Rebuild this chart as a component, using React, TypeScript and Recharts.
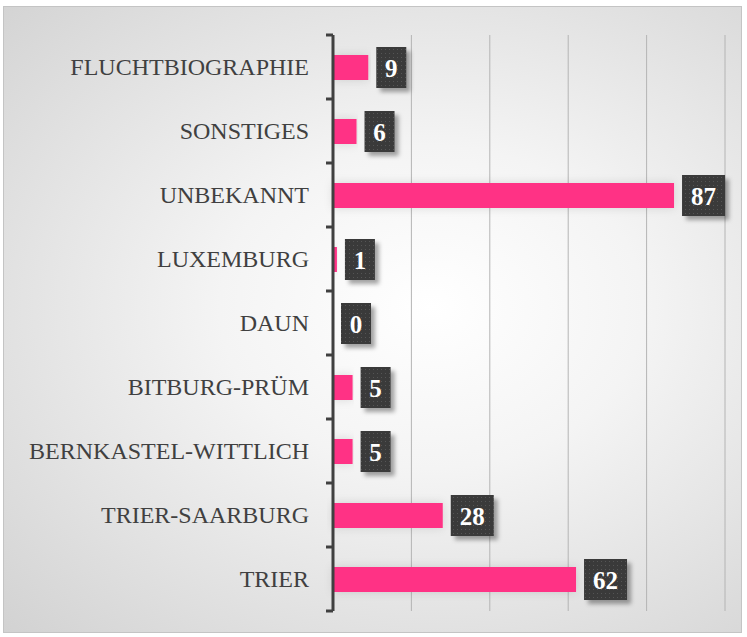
import { Bar, BarChart, CartesianGrid, LabelList, XAxis, YAxis } from 'recharts';

const categories = [
  'FLUCHTBIOGRAPHIE',
  'SONSTIGES',
  'UNBEKANNT',
  'LUXEMBURG',
  'DAUN',
  'BITBURG-PRÜM',
  'BERNKASTEL-WITTLICH',
  'TRIER-SAARBURG',
  'TRIER',
];
const counts = [9, 6, 87, 1, 0, 5, 5, 28, 62];
const xTicks = [0, 20, 40, 60, 80, 100];

const data = categories.map((name, i) => ({ name, value: counts[i] }));

const SERIF = '"Liberation Serif", "DejaVu Serif", serif';

function CategoryTick(props: any) {
  const { x, y, payload, height, index } = props;
  const band = (height || 576) / categories.length;
  const ax = x + 24;
  return (
    <g>
      <text
        x={x}
        y={y}
        textAnchor="end"
        dominantBaseline="central"
        fontFamily={SERIF}
        fontSize={24}
        fill="#404040"
      >
        {payload.value}
      </text>
      <line x1={ax - 7} x2={ax} y1={y - band / 2} y2={y - band / 2} stroke="#404040" strokeWidth={3} />
      {index === categories.length - 1 && (
        <line x1={ax - 7} x2={ax} y1={y + band / 2} y2={y + band / 2} stroke="#404040" strokeWidth={3} />
      )}
    </g>
  );
}

function ValueBadge(props: any) {
  const { x, y, width, height, value } = props;
  const w = String(value).length > 1 ? 43 : 30;
  const h = 41;
  const bx = x + width + 8;
  const by = y + height / 2 - h / 2;
  return (
    <g>
      <rect x={bx + 4} y={by + 4} width={w} height={h} fill="rgba(0,0,0,0.35)" filter="url(#badgeBlur)" />
      <rect x={bx} y={by} width={w} height={h} fill="url(#dots)" />
      <text
        x={bx + w / 2}
        y={by + h / 2 + 1}
        textAnchor="middle"
        dominantBaseline="central"
        fontFamily={SERIF}
        fontWeight="bold"
        fontSize={25}
        fill="#ffffff"
      >
        {String(value)}
      </text>
    </g>
  );
}

export default function App() {
  return (
    <div
      style={{
        position: 'absolute',
        left: 0,
        top: 0,
        width: 747,
        height: 637,
        background: '#ffffff',
      }}
    >
      <div
        style={{
          position: 'absolute',
          left: 3,
          top: 6,
          width: 739,
          height: 627,
          border: '1px solid #c4c4c4',
          boxSizing: 'border-box',
          background: 'radial-gradient(ellipse at 58% 48%, #ffffff 0%, #f4f4f4 35%, #d2d2d2 100%)',
        }}
      />
      <BarChart
        width={747}
        height={637}
        data={data}
        layout="vertical"
        margin={{ top: 35, right: 22, bottom: 26, left: 0 }}
        style={{ position: 'absolute', left: 0, top: 0 }}
      >
        <defs>
          <pattern id="dots" width="4" height="4" patternUnits="userSpaceOnUse">
            <rect width="4" height="4" fill="#3a3a3a" />
            <rect x="1" y="1" width="1" height="1" fill="#555555" />
          </pattern>
          <filter id="badgeBlur" x="-30%" y="-30%" width="160%" height="160%">
            <feGaussianBlur stdDeviation="2" />
          </filter>
          <filter id="barGlow" x="-5%" y="-60%" width="110%" height="220%">
            <feDropShadow dx="0" dy="0" stdDeviation="5" floodColor="#000000" floodOpacity="0.12" />
          </filter>
        </defs>
        <CartesianGrid horizontal={false} stroke="#b4b4b4" strokeWidth={1} />
        <XAxis type="number" domain={[0, 100]} ticks={xTicks} hide />
        <YAxis
          type="category"
          dataKey="name"
          width={333}
          tickSize={0}
          tickMargin={24}
          tickLine={false}
          axisLine={{ stroke: '#404040', strokeWidth: 3 }}
          tick={<CategoryTick />}
          interval={0}
        />
        <Bar
          dataKey="value"
          fill="#ff3385"
          barSize={25}
          minPointSize={0.01}
          isAnimationActive={false}
          filter="url(#barGlow)"
        >
          <LabelList dataKey="value" content={<ValueBadge />} />
        </Bar>
      </BarChart>
    </div>
  );
}
